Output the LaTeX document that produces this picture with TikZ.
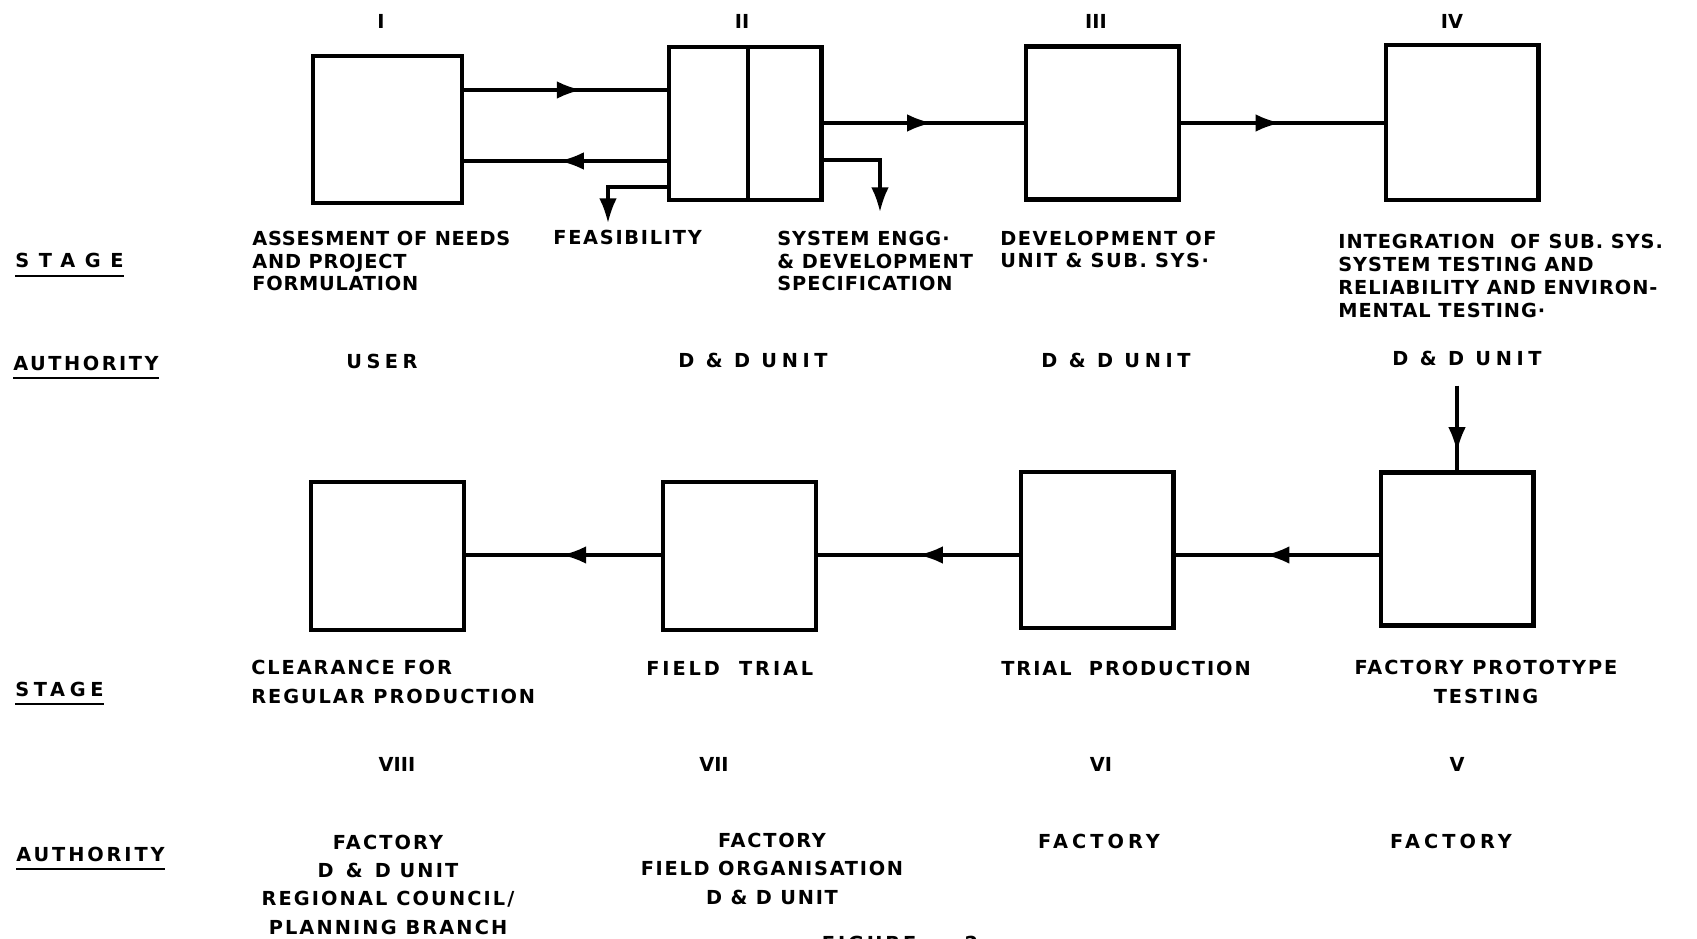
\documentclass[tikz,border=0pt]{standalone}
\usepackage{fontspec}
\setsansfont{DejaVu Sans}
\usetikzlibrary{arrows.meta,decorations.markings}
\newcommand\lettr{\sffamily\bfseries\fontsize{11}{13}\selectfont}
\newcommand\lettrw{\sffamily\bfseries\fontsize{11}{16}\selectfont}
\tikzset{
  blk/.style={draw,line width=2.3pt,inner sep=0pt,minimum width=3.06cm,minimum height=3.06cm},
  ul/.style={line width=1.6pt},
  tip/.style={-{Latex[length=14pt,width=10pt]},line width=1.8pt},
  midarr/.style={line width=1.8pt,postaction={decorate},decoration={markings,
      mark=at position #1 with {\arrow{Latex[length=14pt,width=10pt]}}}},
  lbl/.style={font=\lettr\addfontfeature{LetterSpace=#1},inner sep=0pt,align=left,anchor=base west},
  lbl/.default=8,
  lblw/.style={font=\lettrw\addfontfeature{LetterSpace=#1},inner sep=0pt,align=left,anchor=base west},
  lblw/.default=10,
  ctr/.style={font=\lettrw\addfontfeature{LetterSpace=#1},inner sep=0pt,align=center,anchor=base},
  ctr/.default=21,
}
\begin{document}
\begin{tikzpicture}[x=0.02cm,y=-0.02cm]
  \useasboundingbox (0,0) rectangle (1697,939);
  % stages I-IV
  \node[blk,minimum width=2.98cm,minimum height=2.94cm] (bI) at (387.5,129.5) {};
  \node[blk] (bII)  at (745,123.5) {};
  \node[blk] (bIII) at (1102.5,123) {};
  \node[blk,minimum height=3.1cm] (bIV) at (1462,122.5) {};
  \draw[line width=2.3pt] (bII.north -| 748,0) -- (bII.south -| 748,0);
  % stages V-VIII
  \node[blk,minimum height=2.96cm] (bVIII) at (387.5,556) {};
  \node[blk,minimum height=2.96cm] (bVII)  at (739.5,556) {};
  \node[blk,minimum height=3.12cm] (bVI)   at (1097,550) {};
  \node[blk] (bV) at (1457,549) {};

  \draw[midarr=.58] (bI.east |- 0,90) -- (bII.west |- 0,90);
  \draw[midarr=.53] (bII.west |- 0,161) -- (bI.east |- 0,161);
  \coordinate (feasTip) at (608,223);
  \draw[tip] (bII.west |- 0,187) -| (feasTip);
  \coordinate (specTip) at (880,212);
  \draw[tip] (bII.east |- 0,160) -| (specTip);
  \draw[midarr=.54] (bII.east |- 0,123) -- (bIII.west |- 0,123);
  \draw[midarr=.49] (bIII.east |- 0,123) -- (bIV.west |- 0,123);
  \coordinate (ddTop) at ([yshift=1.7cm]bV.north);
  \draw[midarr=.78] (ddTop) -- (bV.north);
  \draw[midarr=.56] (bV.west |- 0,555) -- (bVI.east |- 0,555);
  \draw[midarr=.5]  (bVI.west |- 0,555) -- (bVII.east |- 0,555);
  \draw[midarr=.51] (bVII.west |- 0,555) -- (bVIII.east |- 0,555);

  % numerals
  \node[ctr=0] (rI)   at (381,29)  {I};
  \node[ctr=0] (rII)  at (742,29)  {II};
  \node[ctr=0] (rIII) at (1096,29) {III};
  \node[ctr=0] (rIV)  at (1452,29) {IV};
  \node[ctr=0] (rVIII) at (397,771)  {VIII};
  \node[ctr=0] (rVII)  at (714,771)  {VII};
  \node[ctr=0] (rVI)   at (1101,771) {VI};
  \node[ctr=0] (rV)    at (1457,771) {V};

  % row heads
  \node[lbl=50] (stageA) at (15,268) {STAGE};
  \node[lbl=13] (authA)  at (13,370) {AUTHORITY};
  \node[lbl=24] (stageB) at (15,696) {STAGE};
  \node[lbl=15] (authB)  at (16,861) {AUTHORITY};
  \foreach \n in {stageA,authA,stageB,authB}
    \draw[ul] ([yshift=-4.5pt]\n.base west) -- ([yshift=-4.5pt]\n.base east);

  % stage texts, top (base = last line)
  \node[lbl=4] (stI)  at (252,291) {ASSESMENT OF NEEDS\\AND PROJECT\\FORMULATION};
  \node[lbl=9] (feas) at (553,245) {FEASIBILITY};
  \node[lbl=5] (stII) at (777,291) {SYSTEM ENGG·\\\& DEVELOPMENT\\SPECIFICATION};
  \node[lbl=8] (stIII) at (1000,268) {DEVELOPMENT OF\\UNIT \& SUB. SYS·};
  \node[lbl=5] (stIV) at (1338,317) {INTEGRATION \ OF SUB. SYS.\\SYSTEM TESTING AND\\RELIABILITY AND ENVIRON-\\MENTAL TESTING·};

  % authority, top
  \node[ctr=23] (auI)   at (382,368)  {USER};
  \node[ctr=24] (auII)  at (753,367)  {D \& D UNIT};
  \node[ctr=24] (auIII) at (1116,367) {D \& D UNIT};
  \node[ctr=24] (auIV)  at (1467,365) {D \& D UNIT};

  % stage texts, bottom
  \node[lblw] (stVIII) at (251,703) {CLEARANCE FOR\\REGULAR PRODUCTION};
  \node[lblw=15] (stVII) at (646,675) {FIELD \ TRIAL};
  \node[lblw] (stVI) at (1001,675) {TRIAL \ PRODUCTION};
  \node[ctr=10] (stV) at (1486,703) {FACTORY PROTOTYPE\\TESTING};

  % authority, bottom
  \node[ctr=11] (auVIII) at (388,934) {FACTORY\\D \,\& \,D UNIT\\REGIONAL COUNCIL/\\PLANNING BRANCH};
  \node[ctr=9]  (auVII)  at (772,904) {FACTORY\\FIELD ORGANISATION\\D \& D UNIT};
  \node[ctr]    (auVI)   at (1099,848) {FACTORY};
  \node[ctr]    (auV)    at (1451,848) {FACTORY};

  \node[ctr=15] (fig) at (900,950) {FIGURE \ – \ 2};
\end{tikzpicture}
\end{document}
